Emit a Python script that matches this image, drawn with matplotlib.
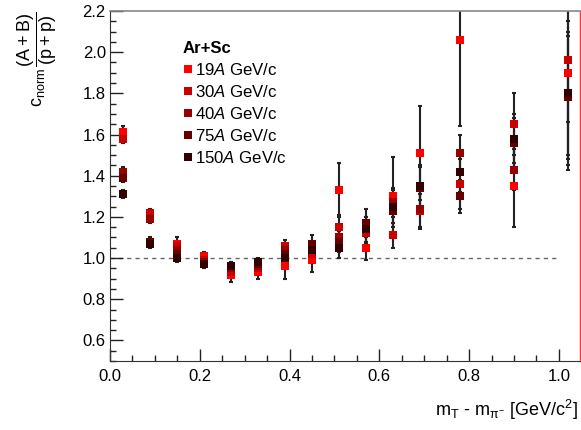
import matplotlib
matplotlib.use("Agg")
import matplotlib.pyplot as plt
from matplotlib.lines import Line2D
from matplotlib.ticker import MultipleLocator

plt.rcParams['font.family'] = ['Liberation Sans', 'DejaVu Sans']
plt.rcParams['mathtext.fontset'] = 'custom'
plt.rcParams['mathtext.rm'] = 'Liberation Sans'
plt.rcParams['mathtext.it'] = 'Liberation Sans:italic'
plt.rcParams['mathtext.bf'] = 'Liberation Sans:bold'
plt.rcParams['mathtext.default'] = 'regular'

x = [0.03, 0.09, 0.15, 0.21, 0.27, 0.33, 0.39, 0.45, 0.51, 0.57, 0.63, 0.69, 0.78, 0.90, 1.02]

labels = ['19', '30', '40', '75', '150']
colors = ['#ff0000', '#cc0000', '#990000', '#660000', '#330000']

v19 = [1.61, 1.21, 1.07, 1.01, 0.92, 0.93, 0.96, 0.99, 1.33, 1.05, 1.30, 1.51, 2.06, 1.35, 1.90]
v30 = [1.58, 1.22, 1.06, 0.99, 0.93, 0.95, 1.06, 1.02, 1.15, 1.12, 1.11, 1.23, 1.36, 1.65, 1.96]
v40 = [1.42, 1.19, 1.04, 0.98, 0.95, 0.96, 1.04, 1.05, 1.10, 1.15, 1.27, 1.24, 1.51, 1.43, 1.80]
v75 = [1.39, 1.08, 1.02, 0.97, 0.96, 0.97, 1.02, 1.07, 1.08, 1.17, 1.23, 1.34, 1.30, 1.56, 1.78]
v150 = [1.31, 1.07, 1.00, 0.97, 0.96, 0.98, 1.00, 1.04, 1.05, 1.14, 1.25, 1.35, 1.42, 1.58, 1.80]

e19 = [0.03, 0.02, 0.03, 0.02, 0.035, 0.03, 0.06, 0.06, 0.13, 0.06, 0.19, 0.23, 0.42, 0.20, 0.47]
e30 = [0.02, 0.02, 0.02, 0.02, 0.02, 0.02, 0.03, 0.03, 0.06, 0.05, 0.06, 0.08, 0.12, 0.15, 0.30]
e40 = [0.02, 0.02, 0.02, 0.02, 0.02, 0.02, 0.03, 0.03, 0.05, 0.05, 0.07, 0.10, 0.09, 0.10, 0.35]
e75 = [0.02, 0.02, 0.02, 0.02, 0.02, 0.02, 0.03, 0.04, 0.05, 0.07, 0.08, 0.10, 0.08, 0.12, 0.30]
e150 = [0.02, 0.02, 0.02, 0.02, 0.02, 0.02, 0.03, 0.03, 0.05, 0.06, 0.08, 0.10, 0.10, 0.12, 0.30]

values = [v19, v30, v40, v75, v150]
errors = [e19, e30, e40, e75, e150]

fig = plt.figure(figsize=(5.81, 4.30), dpi=100)
ax = fig.add_axes([110/581, 1 - 361/430, 470/581, 350/430])

ax.hlines(1.0, 0.0, 1.0, colors='#666666', linestyles=(0, (3, 3)), linewidth=1.0, zorder=1)

for vals, errs, col in zip(values, errors, colors):
    ax.errorbar(x, vals, yerr=errs, fmt='none', ecolor='#222222', elinewidth=1.5,
                capsize=1.5, capthick=1.5, zorder=2)
for vals, col in zip(values, colors):
    ax.plot(x, vals, linestyle='none', marker='s', markersize=6.4, color=col,
            markeredgewidth=0, zorder=3)

ax.set_xlim(0.0, 1.047)
ax.set_ylim(0.5, 2.2)
ax.xaxis.set_minor_locator(MultipleLocator(0.05))
ax.yaxis.set_minor_locator(MultipleLocator(0.05))
ax.set_xticks([0.0, 0.2, 0.4, 0.6, 0.8, 1.0])
ax.set_xticklabels(['0.0', '0.2', '0.4', '0.6', '0.8', '1.0'])
ax.set_yticks([0.6, 0.8, 1.0, 1.2, 1.4, 1.6, 1.8, 2.0, 2.2])
ax.set_yticklabels(['0.6', '0.8', '1.0', '1.2', '1.4', '1.6', '1.8', '2.0', '2.2'])
ax.tick_params(axis='both', which='major', direction='in', length=9, width=1.0,
               labelsize=12, colors='#222222', labelcolor='black')
ax.tick_params(axis='both', which='minor', direction='in', length=4.5, width=1.0, colors='#222222')
ax.tick_params(axis='x', which='major', pad=6)
ax.tick_params(axis='y', which='major', pad=3)
ax.tick_params(top=False, right=False, which='both')

ax.spines['right'].set_color('#ff3333')
ax.spines['right'].set_linewidth(1.0)
ax.spines['top'].set_color('#888888')
ax.spines['top'].set_linewidth(1.2)
ax.spines['left'].set_color('#333333')
ax.spines['bottom'].set_color('#333333')

fig.text(37/581, 1 - 12/430, r'$c_{norm}\,\dfrac{(A+B)}{(p+p)}$', rotation=90,
         ha='center', va='top', fontsize=13)
fig.text(578/581, 1 - 410/430, r'$m_{T}$ - $m_{\pi^{-}}$ [GeV/c$^{2}$]',
         ha='right', va='center', fontsize=13)

handles = [Line2D([], [], linestyle='none', marker='s', markersize=6.4, color=c,
                  markeredgewidth=0) for c in colors]
leg_labels = [lab + r'$\mathit{A}$ GeV/c' for lab in labels]
leg = ax.legend(handles, leg_labels, loc='upper left',
                bbox_to_anchor=(183/581, 1 - 41/430), bbox_transform=fig.transFigure,
                frameon=False, fontsize=12.1, handlelength=0.6, handletextpad=0.12,
                labelspacing=0.36, borderpad=0.0, borderaxespad=0.0,
                title='Ar+Sc', title_fontproperties={'weight': 'bold', 'size': 12.1},
                alignment='left')

fig.savefig('out.png', dpi=100)
